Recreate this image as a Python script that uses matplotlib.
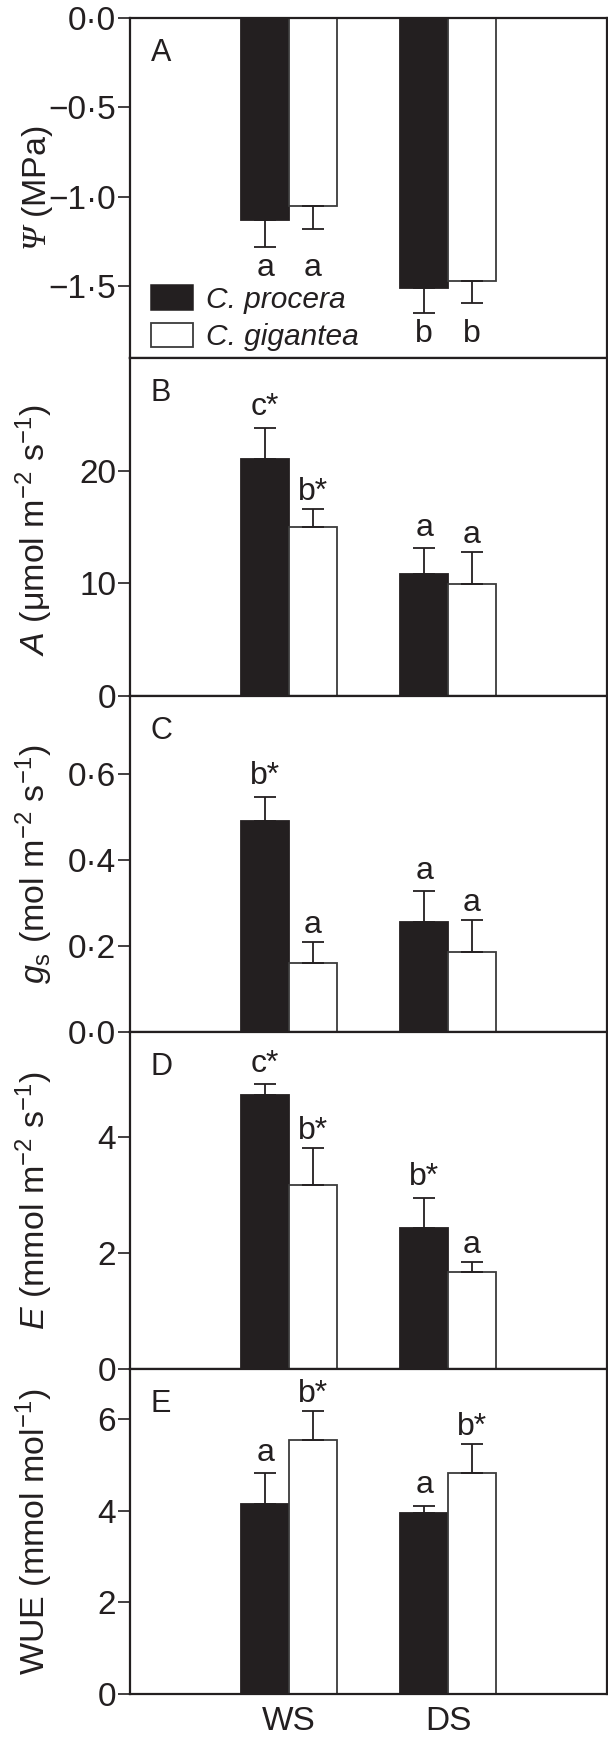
import matplotlib
matplotlib.use('Agg')
import matplotlib.pyplot as plt
from matplotlib.patches import Patch
import numpy as np

plt.rcParams['font.family'] = ['Liberation Sans', 'DejaVu Sans']
plt.rcParams['mathtext.fontset'] = 'custom'
plt.rcParams['mathtext.rm'] = 'Liberation Sans'
plt.rcParams['mathtext.it'] = 'Liberation Sans:italic'
plt.rcParams['mathtext.bf'] = 'Liberation Sans:bold'
plt.rcParams['mathtext.cal'] = 'Liberation Serif:italic'

# ---------------- data ----------------
groups = ['WS', 'DS']
species = ['C. procera', 'C. gigantea']
panel_ids = ['A', 'B', 'C', 'D', 'E']

psi_procera = [-1.13, -1.51]
psi_procera_se = [0.15, 0.14]
psi_gigantea = [-1.05, -1.47]
psi_gigantea_se = [0.13, 0.12]
psi_letters_procera = ['a', 'b']
psi_letters_gigantea = ['a', 'b']

A_procera = [21.0, 10.8]
A_procera_se = [2.8, 2.3]
A_gigantea = [15.0, 9.9]
A_gigantea_se = [1.6, 2.9]
A_letters_procera = ['c*', 'a']
A_letters_gigantea = ['b*', 'a']

gs_procera = [0.49, 0.255]
gs_procera_se = [0.056, 0.072]
gs_gigantea = [0.16, 0.185]
gs_gigantea_se = [0.05, 0.075]
gs_letters_procera = ['b*', 'a']
gs_letters_gigantea = ['a', 'a']

E_procera = [4.72, 2.43]
E_procera_se = [0.18, 0.52]
E_gigantea = [3.17, 1.67]
E_gigantea_se = [0.64, 0.18]
E_letters_procera = ['c*', 'b*']
E_letters_gigantea = ['b*', 'a']

WUE_procera = [4.14, 3.95]
WUE_procera_se = [0.68, 0.16]
WUE_gigantea = [5.54, 4.82]
WUE_gigantea_se = [0.64, 0.64]
WUE_letters_procera = ['a', 'a']
WUE_letters_gigantea = ['b*', 'b*']

ylabels = [r'$\mathcal{Ψ}$ (MPa)',
           r'$\mathit{A}$ (μmol m$^{-2}$ s$^{-1}$)',
           r'$\mathit{g}_{\mathrm{s}}$ (mol m$^{-2}$ s$^{-1}$)',
           r'$\mathit{E}$ (mmol m$^{-2}$ s$^{-1}$)',
           r'WUE (mmol mol$^{-1}$)']

yticks = [[0, -0.5, -1.0, -1.5], [0, 10, 20], [0, 0.2, 0.4, 0.6], [0, 2, 4], [0, 2, 4, 6]]
yticklabels = [['0·0', '−0·5', '−1·0', '−1·5'], ['0', '10', '20'],
               ['0·0', '0·2', '0·4', '0·6'], ['0', '2', '4'], ['0', '2', '4', '6']]
ylims = [(-1.9, 0), (0, 30), (0, 0.78), (0, 5.8), (0, 7.1)]

panels = [
    (psi_procera, psi_procera_se, psi_gigantea, psi_gigantea_se, psi_letters_procera, psi_letters_gigantea),
    (A_procera, A_procera_se, A_gigantea, A_gigantea_se, A_letters_procera, A_letters_gigantea),
    (gs_procera, gs_procera_se, gs_gigantea, gs_gigantea_se, gs_letters_procera, gs_letters_gigantea),
    (E_procera, E_procera_se, E_gigantea, E_gigantea_se, E_letters_procera, E_letters_gigantea),
    (WUE_procera, WUE_procera_se, WUE_gigantea, WUE_gigantea_se, WUE_letters_procera, WUE_letters_gigantea),
]

# ---------------- layout ----------------
W, H = 608, 1745
fig = plt.figure(figsize=(W / 100, H / 100), dpi=100)
tops = [18, 358, 696, 1032, 1369]
bots = [358, 696, 1032, 1369, 1694]
left_px, right_px = 130, 607
label_y = [0.5, 0.49, 0.5, 0.5, 0.5]

dark = '#231f20'
edge = '#3c3c3c'
FS_TICK = 24
FS_ANN = 23
FS_LAB = 24.5
FS_LEG = 21.5
FS_PANEL = 22
bw = 0.3
x = np.arange(len(groups))

for i, (p, pse, g, gse, lp, lg) in enumerate(panels):
    ax = fig.add_axes([left_px / W, 1 - bots[i] / H, (right_px - left_px) / W, (bots[i] - tops[i]) / H])
    neg = ylims[i][1] <= 0
    for vals, se, fc, ec, xoff, letters, toff in [
            (p, pse, dark, dark, -bw / 2, lp, 9.0),
            (g, gse, 'white', edge, bw / 2, lg, 6.3)]:
        xs = x + xoff
        ax.bar(xs, vals, width=bw, color=fc, edgecolor=ec, linewidth=1.3, zorder=2)
        se = np.asarray(se)
        zeros = np.zeros_like(se)
        yerr = [se, zeros] if neg else [zeros, se]
        ax.errorbar(xs, vals, yerr=yerr, fmt='none', ecolor=dark, elinewidth=1.3,
                    capsize=8, capthick=1.3, zorder=3)
        if not neg:
            for xi, v, s, t in zip(xs, vals, se, letters):
                ax.annotate(t, (xi, v + s), xytext=(0, toff), textcoords='offset points',
                            ha='center', va='baseline', fontsize=FS_ANN, color=dark)
    if neg:
        lows = np.minimum(np.asarray(p) - np.asarray(pse), np.asarray(g) - np.asarray(gse))
        for j in range(len(groups)):
            for xoff, letters in [(-bw / 2, lp), (bw / 2, lg)]:
                ax.annotate(letters[j], (x[j] + xoff, lows[j]), xytext=(0, -21),
                            textcoords='offset points', ha='center', va='baseline',
                            fontsize=FS_ANN, color=dark)
        handles = [Patch(facecolor=dark, edgecolor=dark, linewidth=1.1),
                   Patch(facecolor='white', edgecolor=edge, linewidth=1.3)]
        leg = ax.legend(handles, species, loc='lower left', bbox_to_anchor=(0.044, 0.02),
                        frameon=False, borderpad=0, borderaxespad=0,
                        handlelength=1.4, handleheight=0.9, handletextpad=0.45,
                        labelspacing=0.3, prop={'size': FS_LEG, 'style': 'italic'})
        for t in leg.get_texts():
            t.set_color(dark)

    ax.set_xlim(-1, 2)
    ax.set_ylim(*ylims[i])
    ax.set_yticks(yticks[i])
    ax.set_yticklabels(yticklabels[i])
    ax.set_xticks(x)
    if i == len(panels) - 1:
        ax.set_xticklabels(groups)
    else:
        ax.set_xticklabels([])
    ax.tick_params(axis='y', direction='out', length=8.5, width=1.2, pad=1.5,
                   labelsize=FS_TICK, colors=dark)
    ax.tick_params(axis='x', length=0, pad=9, labelsize=FS_TICK, colors=dark)
    for s in ax.spines.values():
        s.set_linewidth(1.6)
        s.set_color(dark)
    ax.set_ylabel(ylabels[i], fontsize=FS_LAB, color=dark)
    ax.yaxis.set_label_coords(-0.158, label_y[i])
    ax.annotate(panel_ids[i], (0, 1), xycoords='axes fraction', xytext=(15, -31),
                textcoords='offset points', ha='left', va='baseline', fontsize=FS_PANEL, color=dark)

fig.savefig('out.png', dpi=100)
